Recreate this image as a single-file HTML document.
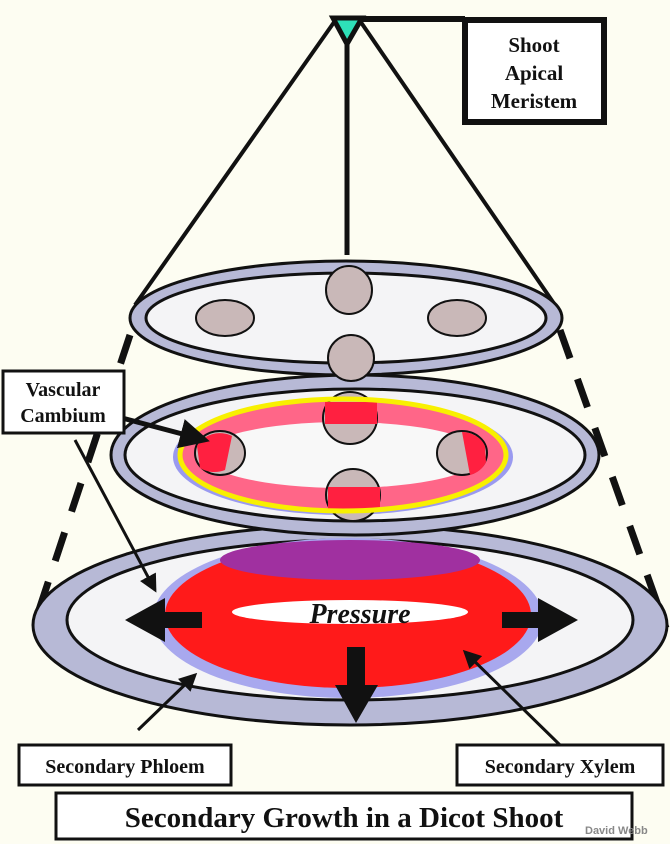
<!DOCTYPE html>
<html><head><style>
body{margin:0;background:#fdfdf2;}
svg{display:block;}
text{font-family:"Liberation Serif",serif;font-weight:bold;fill:#111;}
</style></head><body>
<svg width="670" height="844" viewBox="0 0 670 844" xmlns="http://www.w3.org/2000/svg">
<defs>
<marker id="ah" markerWidth="6" markerHeight="6" refX="5" refY="3" orient="auto" markerUnits="strokeWidth">
<path d="M0,0 L6,3 L0,6 z" fill="#111"/></marker>
</defs>
<rect width="670" height="844" fill="#fdfdf2"/>
<line x1="130" y1="335" x2="33" y2="628" stroke="#111" stroke-width="7" stroke-dasharray="30,22"/>
<line x1="560" y1="330" x2="666" y2="628" stroke="#111" stroke-width="7" stroke-dasharray="30,22"/>
<line x1="337" y1="18" x2="135" y2="305" stroke="#111" stroke-width="4"/>
<line x1="358" y1="18" x2="555" y2="305" stroke="#111" stroke-width="4"/>
<line x1="347" y1="40" x2="347" y2="255" stroke="#111" stroke-width="5"/>
<line x1="340" y1="19" x2="465" y2="19" stroke="#111" stroke-width="6"/>
<polygon points="333,18 362,18 347,44" fill="#2ee0b8" stroke="#111" stroke-width="5"/>
<rect x="465" y="20" width="139" height="102" fill="#fff" stroke="#111" stroke-width="6"/>
<text x="534" y="52" font-size="21" text-anchor="middle">Shoot</text>
<text x="534" y="80" font-size="21" text-anchor="middle">Apical</text>
<text x="534" y="108" font-size="21" text-anchor="middle">Meristem</text>

<ellipse cx="350" cy="625" rx="317" ry="100" fill="#b7b9d6" stroke="#111" stroke-width="3"/>
<ellipse cx="350" cy="620" rx="283" ry="80" fill="#f4f4f6" stroke="#111" stroke-width="3"/>
<ellipse cx="348" cy="618" rx="195" ry="80" fill="#a8a8ee"/>
<ellipse cx="348" cy="615" rx="183" ry="73" fill="#ff1a1a"/>
<ellipse cx="350" cy="560" rx="130" ry="20" fill="#a030a0"/>
<ellipse cx="350" cy="612" rx="118" ry="12" fill="#fff"/>
<text x="360" y="623" font-size="28" font-style="italic" text-anchor="middle">Pressure</text>
<polygon points="125,620 165,598 165,612 202,612 202,628 165,628 165,642" fill="#111"/>
<polygon points="578,620 538,598 538,612 502,612 502,628 538,628 538,642" fill="#111"/>
<polygon points="356,723 335,685 347,685 347,647 365,647 365,685 378,685" fill="#111"/>

<ellipse cx="355" cy="455" rx="244" ry="80" fill="#b7b9d6" stroke="#111" stroke-width="3"/>
<ellipse cx="355" cy="455" rx="230" ry="66" fill="#f4f4f6" stroke="#111" stroke-width="3"/>
<ellipse cx="343" cy="457" rx="170" ry="58" fill="#9a9af0"/>
<ellipse cx="343" cy="455" rx="163" ry="56" fill="#ff6688"/>
<ellipse cx="343" cy="455" rx="140" ry="33" fill="#f8f8f8"/>
<ellipse cx="220" cy="453" rx="25" ry="22" fill="#c9b8b8" stroke="#111" stroke-width="2"/>
<ellipse cx="462" cy="453" rx="25" ry="22" fill="#c9b8b8" stroke="#111" stroke-width="2"/>
<ellipse cx="350" cy="418" rx="27" ry="26" fill="#c9b8b8" stroke="#111" stroke-width="2"/>
<ellipse cx="353" cy="495" rx="27" ry="26" fill="#c9b8b8" stroke="#111" stroke-width="2"/>
<path d="M197,446 A25,22 0 0 1 232,436 L225,470 A25,22 0 0 1 200,468z" fill="#ff2040"/>
<path d="M485,446 A25,22 0 0 0 462,432 L470,475 A25,22 0 0 0 486,462z" fill="#ff2040"/>
<rect x="325" y="402" width="52" height="22" fill="#ff2040"/>
<rect x="328" y="487" width="52" height="22" fill="#ff2040"/>
<ellipse cx="343" cy="455" rx="163" ry="56" fill="none" stroke="#f8f000" stroke-width="5"/>

<ellipse cx="346" cy="318" rx="216" ry="57" fill="#b7b9d6" stroke="#111" stroke-width="3"/>
<ellipse cx="346" cy="318" rx="200" ry="45" fill="#f4f4f6" stroke="#111" stroke-width="3"/>
<ellipse cx="225" cy="318" rx="29" ry="18" fill="#c9b8b8" stroke="#111" stroke-width="2"/>
<ellipse cx="457" cy="318" rx="29" ry="18" fill="#c9b8b8" stroke="#111" stroke-width="2"/>
<ellipse cx="349" cy="290" rx="23" ry="24" fill="#c9b8b8" stroke="#111" stroke-width="2"/>
<ellipse cx="351" cy="358" rx="23" ry="23" fill="#c9b8b8" stroke="#111" stroke-width="2"/>

<line x1="122" y1="418" x2="205" y2="440" stroke="#111" stroke-width="5" marker-end="url(#ah)"/>
<line x1="75" y1="440" x2="155" y2="590" stroke="#111" stroke-width="3" marker-end="url(#ah)"/>
<line x1="138" y1="730" x2="195" y2="675" stroke="#111" stroke-width="3" marker-end="url(#ah)"/>
<line x1="560" y1="745" x2="465" y2="652" stroke="#111" stroke-width="3" marker-end="url(#ah)"/>

<rect x="3" y="371" width="121" height="62" fill="#fff" stroke="#111" stroke-width="3"/>
<text x="63" y="396" font-size="20" text-anchor="middle">Vascular</text>
<text x="63" y="422" font-size="20" text-anchor="middle">Cambium</text>
<rect x="19" y="745" width="212" height="40" fill="#fff" stroke="#111" stroke-width="3"/>
<text x="125" y="773" font-size="20" text-anchor="middle">Secondary Phloem</text>
<rect x="457" y="745" width="206" height="40" fill="#fff" stroke="#111" stroke-width="3"/>
<text x="560" y="773" font-size="20" text-anchor="middle">Secondary Xylem</text>
<rect x="56" y="793" width="576" height="46" fill="#fff" stroke="#111" stroke-width="3"/>
<text x="344" y="827" font-size="29" text-anchor="middle">Secondary Growth in a Dicot Shoot</text>
<text x="585" y="834" font-size="11" style="font-family:'Liberation Sans',sans-serif;fill:#888">David Webb</text>
</svg>
</body></html>
